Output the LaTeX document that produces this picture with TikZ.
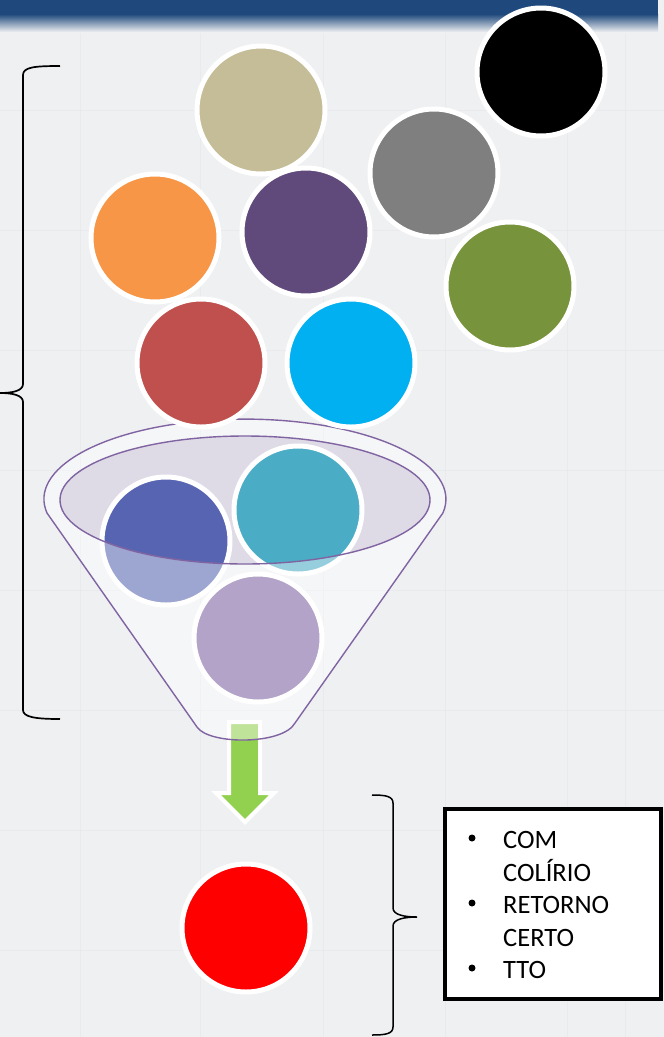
\documentclass[tikz,border=0pt]{standalone}
\usepackage{fontspec}
\setmainfont{Carlito}
\definecolor{bg}{RGB}{239,240,242}
\definecolor{bgline}{RGB}{228,230,233}
\definecolor{topblue}{RGB}{31,73,125}
\definecolor{cblack}{RGB}{0,0,0}
\definecolor{ctan}{RGB}{196,189,151}
\definecolor{cgray}{RGB}{127,127,127}
\definecolor{corange}{RGB}{247,150,70}
\definecolor{cpurple}{RGB}{96,74,123}
\definecolor{colive}{RGB}{119,147,60}
\definecolor{cbrick}{RGB}{192,80,77}
\definecolor{ccyan}{RGB}{0,176,240}
\definecolor{cblue}{RGB}{87,100,177}
\definecolor{cteal}{RGB}{75,172,198}
\definecolor{clav}{RGB}{125,97,162}
\definecolor{cred}{RGB}{255,0,0}
\definecolor{cgreen}{RGB}{146,208,80}
\definecolor{funnelpurple}{RGB}{128,100,162}
\definecolor{mouth}{RGB}{222,219,231}
\begin{document}
\begin{tikzpicture}[x=1pt,y=-1pt,
  ball/.style={circle, minimum size=128pt, inner sep=0pt, draw=white, line width=5pt},
  bracestyle/.style={line width=1.7pt, black},
  funnelline/.style={draw=funnelpurple, line width=1.4pt},
  lbl/.style={anchor=base west, inner sep=0pt, font=\fontsize{26.5}{32}\selectfont},
  bul/.style={circle, fill=black, inner sep=0pt, minimum size=7pt}
]
\useasboundingbox (0,0) rectangle (664,1037);
% background
\fill[bg] (0,0) rectangle (664,1037);
\foreach \x in {80,200,323,445,567,625}
  \draw[bgline, line width=1pt, opacity=0.5] (\x,30) -- (\x,1037);
\foreach \y in {110,230,350,470,590,710,830,950}
  \draw[bgline, line width=1pt, opacity=0.5] (0,\y) -- (664,\y);
% top bar
\fill[topblue] (0,0) rectangle (658,14);
\shade[top color=topblue, bottom color=bg] (0,14) rectangle (658,32);

% left bracket
\draw[bracestyle] (60,66) .. controls (35,66) and (23,67) .. (23,75) -- (23,384)
  .. controls (23,391) and (12,393) .. (0,393)
  .. controls (12,393) and (23,395) .. (23,402) -- (23,710)
  .. controls (23,717) and (35,719) .. (60,719);

% funnel mouth fill
\fill[mouth] (245,500) ellipse[x radius=185, y radius=64];

% balls inside funnel
\node[ball, fill=cblue] (b1) at (166,541) {};
\node[ball, fill=cteal] (b2) at (298,510) {};
\node[ball, fill=clav] (b3) at (258,638) {};

% green arrow
\draw[white, line width=4pt, fill=cgreen, line join=miter]
  (229,722) -- (260,722) -- (260,793) -- (274,793) -- (245,822) -- (216,793) -- (229,793) -- cycle;

% funnel body overlay (white, translucent), mouth excluded
\fill[white, opacity=0.42, even odd rule]
  (197,727) -- (47,513) arc[start angle=170, end angle=370, x radius=201, y radius=80]
  -- (295,723) .. controls (283,745) and (209,745) .. (197,727) -- cycle
  (245,500) ellipse[x radius=185, y radius=64];
% funnel outlines
\draw[funnelline, line join=round]
  (197,727) -- (47,513) arc[start angle=170, end angle=370, x radius=201, y radius=80]
  -- (295,723) .. controls (283,745) and (209,745) .. (197,727) -- cycle;
\draw[funnelline] (245,500) ellipse[x radius=185, y radius=64];

% upper balls
\node[ball, fill=cblack] (k) at (541,72) {};
\node[ball, fill=ctan] (t) at (261,110) {};
\node[ball, fill=cgray] (g) at (434,173) {};
\node[ball, fill=corange] (o) at (155,238) {};
\node[ball, fill=cpurple] (p) at (306,232) {};
\node[ball, fill=colive] (v) at (510,286) {};
\node[ball, fill=cbrick] (r) at (201,363) {};
\node[ball, fill=ccyan] (c) at (351,363) {};

% result ball
\node[ball, fill=cred] (res) at (246,928) {};

% right bracket
\draw[line width=1.5pt, black] (372,795) .. controls (385,795) and (393,796) .. (393,803) -- (393,908)
  .. controls (393,915) and (405,917) .. (417,917)
  .. controls (405,917) and (393,919) .. (393,926) -- (393,1027)
  .. controls (393,1034) and (385,1035) .. (372,1035);

% text box
\draw[line width=4pt, fill=white] (445,809) rectangle (661,999);
\node[bul] (t1b) at (472,838) {};
\node[lbl] (t1) at (503,848) {COM};
\node[lbl] (t2) at (503,881) {COLÍRIO};
\node[bul] (t3b) at (472,903) {};
\node[lbl] (t3) at (503,913) {RETORNO};
\node[lbl] (t4) at (503,946) {CERTO};
\node[bul] (t5b) at (472,968) {};
\node[lbl] (t5) at (503,978) {TTO};
\end{tikzpicture}
\end{document}
